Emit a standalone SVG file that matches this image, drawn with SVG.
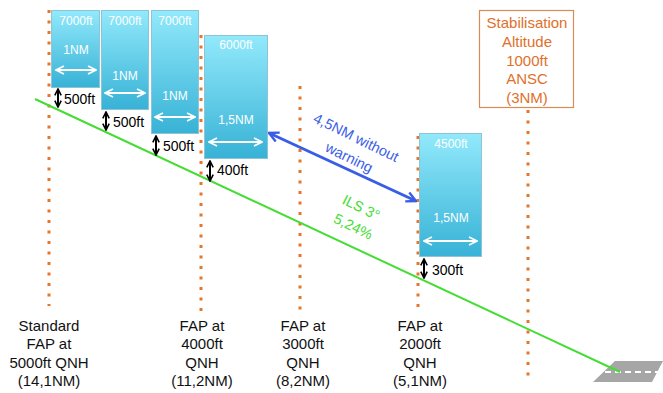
<svg xmlns="http://www.w3.org/2000/svg" width="663" height="393" viewBox="0 0 663 393">
<style>
text{font-family:"Liberation Sans",Arial,sans-serif}
.dot{stroke:#e5772a;stroke-width:3;stroke-dasharray:3 7.5;fill:none}
.box{fill:url(#g);stroke:#8fc3d6;stroke-width:1}
.bt{fill:#fff;font-size:12px;text-anchor:middle}
.wa{stroke:#fff;stroke-width:2;fill:none;marker-start:url(#wh);marker-end:url(#wh)}
.ba{stroke:#000;stroke-width:2;fill:none;marker-start:url(#bh);marker-end:url(#bh)}
.lb{fill:#000;font-size:14px}
.bl{fill:#111;font-size:15px;text-anchor:middle}
.or{fill:#e0702a;font-size:15px;text-anchor:middle}
</style>
<defs>
<linearGradient id="g" x1="0" y1="0" x2="0" y2="1">
<stop offset="0" stop-color="#92e9fb"/>
<stop offset="1" stop-color="#37b2d6"/>
</linearGradient>
<marker id="wh" viewBox="0 0 10 10" refX="9" refY="5" markerWidth="5" markerHeight="5" orient="auto-start-reverse" markerUnits="strokeWidth"><path d="M1,1 L9,5 L1,9" fill="none" stroke="#fff" stroke-width="1.6"/></marker>
<marker id="bh" viewBox="0 0 10 10" refX="9" refY="5" markerWidth="4" markerHeight="4" orient="auto-start-reverse" markerUnits="strokeWidth"><path d="M1,1 L9,5 L1,9" fill="none" stroke="#000" stroke-width="2"/></marker>
<marker id="blh" viewBox="0 0 10 10" refX="9" refY="5" markerWidth="4" markerHeight="4" orient="auto-start-reverse" markerUnits="strokeWidth"><path d="M1,1 L9,5 L1,9" fill="none" stroke="#3a5de6" stroke-width="2"/></marker>
</defs>

<g id="dotted-lines">
<line class="dot" x1="49" y1="10" x2="49" y2="306"/>
<line class="dot" x1="201" y1="35" x2="201" y2="312"/>
<line class="dot" x1="300" y1="86" x2="300" y2="314"/>
<line class="dot" x1="418" y1="136" x2="418" y2="310"/>
<line class="dot" x1="528" y1="110" x2="528" y2="382"/>
</g>

<g id="runway">
<polygon points="615,361 663,361 652,382 593,382" fill="#a6a6a6"/>
<line x1="605" y1="372" x2="663" y2="372" stroke="#fff" stroke-width="2" stroke-dasharray="6 4"/>
</g>

<g id="connectors">
<line id="ils" x1="35" y1="99" x2="620" y2="372" stroke="#44dd33" stroke-width="2"/>
<line x1="269" y1="133" x2="416" y2="201" stroke="#3a5de6" stroke-width="3" marker-start="url(#blh)" marker-end="url(#blh)"/>
<line class="ba" x1="58" y1="89" x2="58" y2="107"/>
<line class="ba" x1="106" y1="112" x2="106" y2="130"/>
<line class="ba" x1="156" y1="136" x2="156" y2="155"/>
<line class="ba" x1="210" y1="161" x2="210" y2="181"/>
<line class="ba" x1="424" y1="259" x2="424" y2="278"/>
</g>

<g id="box1">
<rect class="box" x="51.5" y="10.5" width="48" height="77"/>
<text class="bt" x="76" y="25">7000ft</text>
<text class="bt" x="76" y="54">1NM</text>
<line class="wa" x1="56" y1="70" x2="96" y2="70"/>
<text class="lb" x="64" y="104">500ft</text>
</g>
<g id="box2">
<rect class="box" x="101.5" y="10.5" width="47" height="99"/>
<text class="bt" x="125" y="25">7000ft</text>
<text class="bt" x="125" y="80">1NM</text>
<line class="wa" x1="105" y1="93" x2="145" y2="93"/>
<text class="lb" x="113" y="127">500ft</text>
</g>
<g id="box3">
<rect class="box" x="151.5" y="10.5" width="47" height="123"/>
<text class="bt" x="175" y="25">7000ft</text>
<text class="bt" x="175" y="100">1NM</text>
<line class="wa" x1="155" y1="117" x2="195" y2="117"/>
<text class="lb" x="163" y="151">500ft</text>
</g>
<g id="box4">
<rect class="box" x="204.5" y="35.5" width="63" height="123"/>
<text class="bt" x="236" y="49">6000ft</text>
<text class="bt" x="236" y="124">1,5NM</text>
<line class="wa" x1="209" y1="142" x2="262" y2="142"/>
<text class="lb" x="217" y="175">400ft</text>
</g>
<g id="box5">
<rect class="box" x="419.5" y="133.5" width="62" height="123"/>
<text class="bt" x="451" y="148">4500ft</text>
<text class="bt" x="451" y="222">1,5NM</text>
<line class="wa" x1="424" y1="241" x2="477" y2="241"/>
<text class="lb" x="432" y="275">300ft</text>
</g>

<g id="stab">
<rect x="479.5" y="10.5" width="94" height="97" fill="#fff" stroke="#d98a55" stroke-width="1.2"/>
<text class="or" x="527" y="28">Stabilisation</text>
<text class="or" x="527" y="47">Altitude</text>
<text class="or" x="527" y="66">1000ft</text>
<text class="or" x="527" y="84">ANSC</text>
<text class="or" x="527" y="103">(3NM)</text>
</g>

<g id="warning-label">
<text fill="#3a5de6" font-size="14.5" text-anchor="middle" transform="translate(354,142) rotate(26)">4,5NM without</text>
<text fill="#3a5de6" font-size="14.5" text-anchor="middle" transform="translate(347,162) rotate(26)">warning</text>
</g>
<g id="ils-label">
<text fill="#44dd33" font-size="14.5" text-anchor="middle" transform="translate(359,212) rotate(26)">ILS 3°</text>
<text fill="#44dd33" font-size="14.5" text-anchor="middle" transform="translate(351,231) rotate(26)">5,24%</text>
</g>

<g id="fap5000">
<text class="bl" x="49" y="331">Standard</text>
<text class="bl" x="49" y="349">FAP at</text>
<text class="bl" x="49" y="368">5000ft QNH</text>
<text class="bl" x="49" y="386">(14,1NM)</text>
</g>
<g id="fap4000">
<text class="bl" x="202" y="331">FAP at</text>
<text class="bl" x="202" y="349">4000ft</text>
<text class="bl" x="202" y="368">QNH</text>
<text class="bl" x="202" y="386">(11,2NM)</text>
</g>
<g id="fap3000">
<text class="bl" x="303" y="331">FAP at</text>
<text class="bl" x="303" y="349">3000ft</text>
<text class="bl" x="303" y="368">QNH</text>
<text class="bl" x="303" y="386">(8,2NM)</text>
</g>
<g id="fap2000">
<text class="bl" x="420" y="331">FAP at</text>
<text class="bl" x="420" y="349">2000ft</text>
<text class="bl" x="420" y="368">QNH</text>
<text class="bl" x="420" y="386">(5,1NM)</text>
</g>
</svg>
